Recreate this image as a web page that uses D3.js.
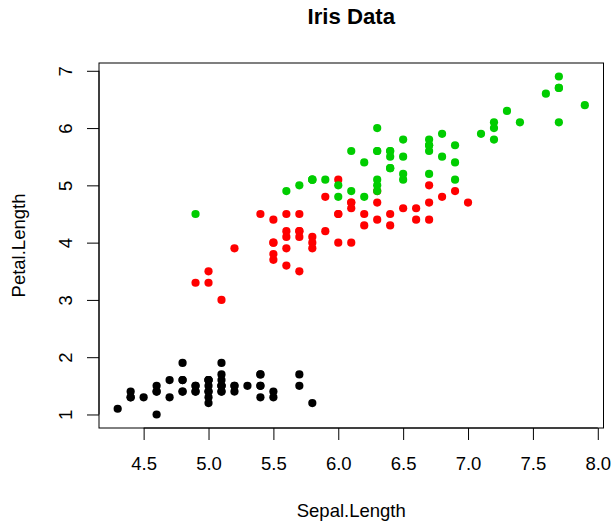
<!DOCTYPE html>
<html>
<head>
<meta charset="utf-8">
<script src="https://cdn.jsdelivr.net/npm/d3@7"></script>
<style>
  body { margin: 0; background: #fff; }
  text { font-family: "Liberation Sans", Arial, sans-serif; }
</style>
</head>
<body>
<div id="vis"></div>
<script>
// iris: Sepal.Length, Petal.Length by species
const species = ["setosa", "versicolor", "virginica"];
const speciesColors = ["#000000", "#FF0000", "#00CD00"];

const sepalLength = [
  5.1,4.9,4.7,4.6,5.0,5.4,4.6,5.0,4.4,4.9,5.4,4.8,4.8,4.3,5.8,5.7,5.4,5.1,5.7,5.1,
  5.4,5.1,4.6,5.1,4.8,5.0,5.0,5.2,5.2,4.7,4.8,5.4,5.2,5.5,4.9,5.0,5.5,4.9,4.4,5.1,
  5.0,4.5,4.4,5.0,5.1,4.8,5.1,4.6,5.3,5.0,
  7.0,6.4,6.9,5.5,6.5,5.7,6.3,4.9,6.6,5.2,5.0,5.9,6.0,6.1,5.6,6.7,5.6,5.8,6.2,5.6,
  5.9,6.1,6.3,6.1,6.4,6.6,6.8,6.7,6.0,5.7,5.5,5.5,5.8,6.0,5.4,6.0,6.7,6.3,5.6,5.5,
  5.5,6.1,5.8,5.0,5.6,5.7,5.7,6.2,5.1,5.7,
  6.3,5.8,7.1,6.3,6.5,7.6,4.9,7.3,6.7,7.2,6.5,6.4,6.8,5.7,5.8,6.4,6.5,7.7,7.7,6.0,
  6.9,5.6,7.7,6.3,6.7,7.2,6.2,6.1,6.4,7.2,7.4,7.9,6.4,6.3,6.1,7.7,6.3,6.4,6.0,6.9,
  6.7,6.9,5.8,6.8,6.7,6.7,6.3,6.5,6.2,5.9
];
const petalLength = [
  1.4,1.4,1.3,1.5,1.4,1.7,1.4,1.5,1.4,1.5,1.5,1.6,1.4,1.1,1.2,1.5,1.3,1.4,1.7,1.5,
  1.7,1.5,1.0,1.7,1.9,1.6,1.6,1.5,1.4,1.6,1.6,1.5,1.5,1.4,1.5,1.2,1.3,1.4,1.3,1.5,
  1.3,1.3,1.3,1.6,1.9,1.4,1.6,1.4,1.5,1.4,
  4.7,4.5,4.9,4.0,4.6,4.5,4.7,3.3,4.6,3.9,3.5,4.2,4.0,4.7,3.6,4.4,4.5,4.1,4.5,3.9,
  4.8,4.0,4.9,4.7,4.3,4.4,4.8,5.0,4.5,3.5,3.8,3.7,3.9,5.1,4.5,4.5,4.7,4.4,4.1,4.0,
  4.4,4.6,4.0,3.3,4.2,4.2,4.2,4.3,3.0,4.1,
  6.0,5.1,5.9,5.6,5.8,6.6,4.5,6.3,5.8,6.1,5.1,5.3,5.5,5.0,5.1,5.3,5.5,6.7,6.9,5.0,
  5.7,4.9,6.7,4.9,5.7,6.0,4.8,4.9,5.6,5.8,6.1,6.4,5.6,5.1,5.6,6.1,5.6,5.5,4.8,5.4,
  5.6,5.1,5.1,5.9,5.7,5.2,5.0,5.2,5.4,5.1
];
const speciesIndex = sepalLength.map((d, i) => Math.floor(i / 50));

const xTicks = [4.5, 5.0, 5.5, 6.0, 6.5, 7.0, 7.5, 8.0];
const yTicks = [1, 2, 3, 4, 5, 6, 7];

const W = 613, H = 524;
const plot = {left: 99, right: 603.5, top: 63, bottom: 428};
const fs = 18.5;

const svg = d3.select("#vis").append("svg")
  .attr("width", W).attr("height", H);

// R style 4% padding on data range
function padded(ext) {
  const p = (ext[1] - ext[0]) * 0.04;
  return [ext[0] - p, ext[1] + p];
}
const x = d3.scaleLinear().domain(padded(d3.extent(sepalLength))).range([plot.left, plot.right]);
const y = d3.scaleLinear().domain(padded(d3.extent(petalLength))).range([plot.bottom, plot.top]);

// points
svg.append("g").selectAll("circle")
  .data(sepalLength.map((d, i) => ({x: d, y: petalLength[i], s: speciesIndex[i]})))
  .join("circle")
  .attr("cx", d => x(d.x))
  .attr("cy", d => y(d.y))
  .attr("r", 4.1)
  .attr("fill", d => speciesColors[d.s]);

// box
svg.append("rect")
  .attr("x", plot.left).attr("y", plot.top)
  .attr("width", plot.right - plot.left).attr("height", plot.bottom - plot.top)
  .attr("fill", "none").attr("stroke", "#000").attr("stroke-width", 1);

// x axis
const xa = svg.append("g")
  .attr("transform", `translate(0,${plot.bottom})`)
  .call(d3.axisBottom(x).tickValues(xTicks).tickFormat(d3.format(".1f")).tickSize(12).tickPadding(0));
xa.select(".domain").attr("d", `M${x(xTicks[0])},0H${x(xTicks[xTicks.length - 1])}`);
xa.selectAll("text").attr("font-size", fs).attr("font-family", "Liberation Sans, Arial, sans-serif")
  .attr("fill", "#000").attr("dy", null).attr("y", 42);
xa.selectAll("line").attr("stroke", "#000");

// y axis
const ya = svg.append("g")
  .attr("transform", `translate(${plot.left},0)`)
  .call(d3.axisLeft(y).tickValues(yTicks).tickFormat(d3.format("d")).tickSize(12).tickPadding(0));
ya.select(".domain").attr("d", `M0,${y(yTicks[0])}V${y(yTicks[yTicks.length - 1])}`);
ya.selectAll("line").attr("stroke", "#000");
ya.selectAll("text")
  .attr("font-size", fs).attr("font-family", "Liberation Sans, Arial, sans-serif")
  .attr("fill", "#000")
  .attr("x", null).attr("dy", null)
  .attr("text-anchor", "middle")
  .attr("transform", "translate(-27.5,0) rotate(-90)");

// title
svg.append("text")
  .attr("x", (plot.left + plot.right) / 2).attr("y", 24)
  .attr("text-anchor", "middle")
  .attr("font-size", fs * 1.2).attr("font-weight", "bold")
  .text("Iris Data");

// axis labels
svg.append("text")
  .attr("x", (plot.left + plot.right) / 2).attr("y", 517)
  .attr("text-anchor", "middle").attr("font-size", fs)
  .text("Sepal.Length");

svg.append("text")
  .attr("transform", `translate(25,${(plot.top + plot.bottom) / 2}) rotate(-90)`)
  .attr("text-anchor", "middle").attr("font-size", fs)
  .text("Petal.Length");
</script>
</body>
</html>
